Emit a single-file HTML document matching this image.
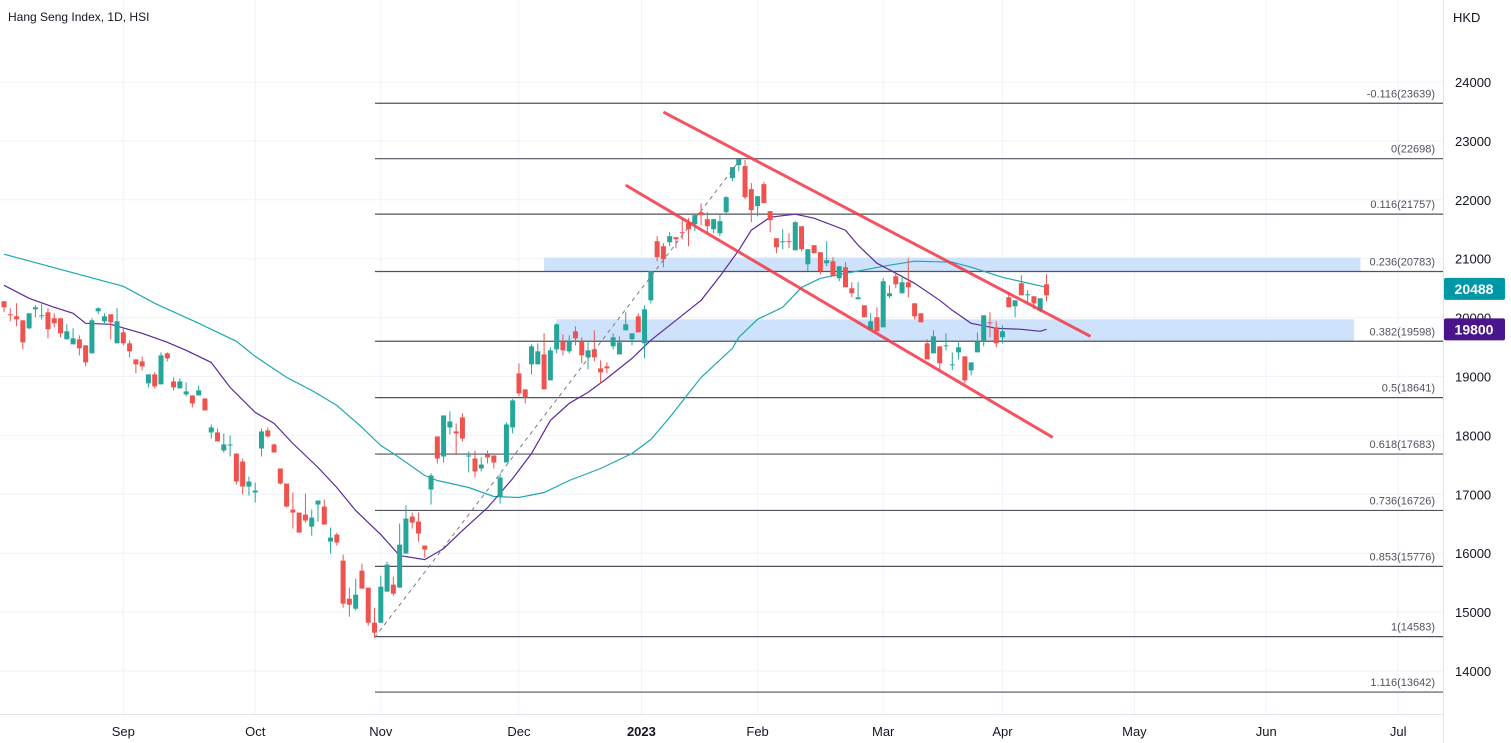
<!DOCTYPE html>
<html><head><meta charset="utf-8"><style>
body{margin:0;background:#fff;font-family:"Liberation Sans",sans-serif;}
svg{display:block}
</style></head><body>
<svg id="chart" width="1511" height="743" xmlns="http://www.w3.org/2000/svg">
<rect width="1511" height="743" fill="#fff"/>
<g id="grid"></g>
<g id="zones"></g>
<g id="fib"></g>
<g id="mas"></g>
<g id="candles"></g>
<g id="draw"></g>
<g id="axes"></g>
<text x="8" y="21" font-size="12" fill="#131722">Hang Seng Index, 1D, HSI</text>
</svg>
<script>
const opens=[20277,20056,20022,19954,19818,20141,20022,20090,19988,19988,19631,19546,19631,19529,19393,20107,19937,20056,19563,19750,19563,19291,19257,18883,19036,18866,19393,18917,18798,18696,18679,18679,18628,18050,18050,17744,17829,17693,17557,17132,17030,17778,18084,17846,17438,17183,16741,16690,16656,16452,16826,16792,16197,16316,15874,15228,15058,15704,15415,14820,
14820,15347,15466,15415,15993,16622,16537,16129,17081,17982,17642,18135,18067,18305,17642,17608,17438,17676,17659,16962,17540,18135,19053,18781,19206,19206,19376,18934,19461,19597,19427,19767,19597,19325,19461,19138,19172,19512,19376,19784,19631,20022,19563,20294,21297,21212,21280,21365,21450,21603,21586,21790,21671,21501,21433,21790,
22368,22589,22572,22181,21892,22266,21807,21348,21280,21297,21144,21552,20906,21229,21110,20923,20957,20668,20855,20498,20311,20209,19801,20005,19835,20362,20702,20413,20600,20243,20073,19563,19393,19512,19512,19189,19410,19342,19104,19410,19597,19920,19835,19665,20345,20192,20583,20379,20362,20124,20566];
const highs=[20277,20158,20243,19954,20073,20209,20260,20158,20073,19988,19886,19818,19699,19529,19988,20175,20073,20056,20158,19835,19614,19291,19342,19036,19070,19410,19410,18985,18968,18900,18679,18849,18628,18186,18118,18033,17999,17693,17608,17302,17200,18118,18135,17863,17438,17183,17030,16690,17013,16741,16894,16911,16435,16350,15976,15415,15568,15823,15415,15075,
15619,15857,15602,16503,16809,16690,16690,16129,17353,17982,18339,18407,18203,18373,17727,17744,17625,17744,17659,17353,18220,18620,19223,18781,19546,19563,19733,19495,19903,19716,19699,19852,19665,19597,19784,19274,19240,19733,19682,20090,19733,20073,20209,20787,21382,21263,21450,21365,21671,21688,21739,21943,21790,21671,21739,22060,
22555,22700,22674,22283,22062,22300,21807,21348,21501,21433,21637,21552,21161,21229,21110,21297,21025,20872,20940,20600,20600,20209,20073,20175,20668,20549,20753,20719,21008,20243,20073,19631,19784,19512,19733,19410,19580,19342,19240,19750,20039,20090,19937,19869,20430,20294,20719,20464,20362,20328,20736];
const lows=[20090,19937,19852,19461,19801,20005,19971,19648,19835,19665,19631,19546,19359,19172,19393,20056,19886,19631,19563,19529,19325,19053,19104,18815,18798,18866,19257,18764,18798,18662,18475,18679,18424,17948,17897,17710,17642,17166,16996,16979,16860,17642,17965,17710,17166,16775,16418,16350,16520,16299,16537,16486,15993,16129,15075,14922,15024,15398,14769,14565,
14820,15347,15279,15415,15993,16418,16197,15925,16826,17523,17540,18016,17693,17897,17370,17285,17387,17523,17438,16843,17540,18033,18662,18543,19036,19206,18781,18934,19393,19359,19393,19529,19223,19121,19257,18883,19053,19461,19376,19784,19529,19750,19308,20243,20957,20855,21212,21178,21331,21212,21467,21569,21450,21433,21382,21770,
22317,22487,22011,21620,21722,21943,21450,21093,21161,21178,21144,21127,20787,21093,20736,20872,20702,20617,20515,20345,20311,20005,19801,19767,19835,20328,20498,20413,20345,19971,19920,19291,19393,19104,19444,19104,19291,18883,19019,19410,19512,19665,19495,19563,20175,20005,20379,20243,20141,20090,20277];
const closes=[20175,20039,19971,19580,20073,20175,20039,19801,19903,19733,19767,19648,19478,19240,19954,20158,20022,19920,19937,19563,19427,19206,19172,19036,18832,19359,19308,18815,18917,18747,18543,18764,18424,18135,17897,17846,17846,17217,17132,17217,17064,18067,17982,17710,17183,16792,16690,16350,16554,16605,16894,16486,16265,16180,15143,15126,15296,15398,14820,14650,
15432,15806,15313,16146,16588,16520,16333,16061,17319,17608,18339,18237,18033,17948,17659,17387,17506,17625,17540,17285,18186,18594,18713,18645,19512,19427,18781,19444,19886,19444,19597,19648,19359,19444,19325,19070,19138,19665,19580,19886,19733,19750,20141,20787,21025,20991,21382,21331,21433,21501,21739,21739,21552,21671,21637,22045,
22555,22691,22045,21824,22062,21943,21654,21195,21297,21280,21620,21161,21161,21093,20787,20974,20702,20872,20515,20413,20345,20005,19937,19767,20617,20413,20566,20600,20515,20022,19920,19291,19682,19223,19529,19206,19495,18934,19240,19597,20039,19903,19563,19767,20175,20294,20379,20396,20243,20328,20379];
const maLongIdx=[0,19,24,31,37,40,45,49,53,57,60,62,67,69,74,78,82,86,90,95,100,103,106,109,111,116,117,120,124,127,130,135,141,145,151,154,159,166];
const maLongVal=[21076,20532,20243,19903,19597,19342,18985,18764,18509,18135,17829,17693,17319,17234,17115,16962,16945,17030,17234,17438,17693,17931,18305,18713,18985,19478,19665,19971,20175,20515,20668,20770,20889,20957,20940,20855,20685,20515];
const maShortIdx=[0,4,8,11,13,17,22,26,29,33,36,40,43,46,50,53,56,60,63,67,70,73,77,81,84,87,90,93,96,100,103,107,111,114,117,119,122,126,129,134,136,139,142,145,149,151,154,158,162,165,166];
const maShortVal=[20549,20328,20175,20073,19903,19886,19733,19580,19444,19240,18815,18390,18203,17863,17455,17115,16724,16316,15959,15891,16078,16384,16775,17268,17693,18254,18543,18730,18968,19308,19614,19954,20294,20702,21144,21484,21705,21756,21688,21484,21229,20923,20753,20583,20294,20124,19903,19818,19801,19767,19801];
const fibRatios=["-0.116","0","0.116","0.236","0.382","0.5","0.618","0.736","0.853","1","1.116"];
const fibValues=[23639,22698,21757,20783,19598,18641,17683,16726,15776,14583,13642];
const priceTicks=[24000,23000,22000,21000,20000,19000,18000,17000,16000,15000,14000];
const monthLabels=["Sep","Oct","Nov","Dec","2023","Feb","Mar","Apr","May","Jun","Jul"];
const monthIdx=[19,40,60,82,101.5,120,140,159,180,201,222];
const channelUpper=[[105,23490],[173,19682]];
const channelLower=[[99,22249],[167,17965]];
const fibAnchor=[[59,14565],[117.3,22691]];
const zoneUpper=[[86,20783],[216,21020]];
const zoneLower=[[88,19598],[215,19970]];
const lastPrice=20488, maPrice=19800;

const NS="http://www.w3.org/2000/svg";
const X=i=>4+i*6.28;
const Y=v=>82+(24000-v)*0.0589;
function mk(parent,tag,attrs){const e=document.createElementNS(NS,tag);for(const k in attrs)e.setAttribute(k,attrs[k]);document.getElementById(parent).appendChild(e);return e;}

// grid
priceTicks.forEach(v=>{const l=mk('grid','line',{x1:0,x2:1443,y1:Y(v),y2:Y(v),stroke:'#f0f3fa','stroke-width':1});

});
monthIdx.forEach(i=>{const l=mk('grid','line',{x1:X(i),x2:X(i),y1:0,y2:714,stroke:'#f0f3fa','stroke-width':1});

});

// zones
[zoneUpper,zoneLower].forEach((z,k)=>{const r=mk('zones','rect',{x:X(z[0][0]),y:Y(z[1][1]),width:X(z[1][0])-X(z[0][0]),height:Y(z[0][1])-Y(z[1][1]),fill:'#cfe2fb'});

});

// fib
fibValues.forEach((v,k)=>{const l=mk('fib','line',{x1:375,x2:1443,y1:Y(v),y2:Y(v),stroke:'#50535e','stroke-width':1.2});


const t=mk('fib','text',{x:1435,y:Y(v)-6,'font-size':11,fill:'#50535e','text-anchor':'end'});t.textContent=fibRatios[k]+'('+v+')';

});

// MAs
function path(idx,val){return idx.map((i,k)=>(k?'L':'M')+X(i).toFixed(1)+' '+Y(val[k]).toFixed(1)).join(' ');}
const p1=mk('mas','path',{d:path(maLongIdx,maLongVal),stroke:'#1fa8b0',fill:'none','stroke-width':1.2});


const p2=mk('mas','path',{d:path(maShortIdx,maShortVal),stroke:'#5b2a9b',fill:'none','stroke-width':1.2});



// candles
opens.forEach((o,i)=>{const c=closes[i],up=c>=o,col=up?'#26a69a':'#ef5350',x=X(i);
const w=mk('candles','line',{x1:x,x2:x,y1:Y(highs[i]),y2:Y(lows[i]),stroke:col,'stroke-width':1});


const top=Y(Math.max(o,c)),h=Math.max(1,Y(Math.min(o,c))-top);
const b=mk('candles','rect',{x:x-2.5,y:top,width:5,height:h,fill:col});

});

// drawings
const d=mk('draw','line',{x1:X(fibAnchor[0][0]),y1:Y(fibAnchor[0][1]),x2:X(fibAnchor[1][0]),y2:Y(fibAnchor[1][1]),stroke:'#787b86','stroke-width':1,'stroke-dasharray':'4 4'});


[channelUpper,channelLower].forEach((c,k)=>{const l=mk('draw','line',{x1:X(c[0][0]),y1:Y(c[0][1]),x2:X(c[1][0]),y2:Y(c[1][1]),stroke:'#f23645','stroke-width':3,'stroke-opacity':0.85});

});

// axes
const ax=mk('axes','line',{x1:1443.5,x2:1443.5,y1:0,y2:743,stroke:'#e0e3eb'});


const bx=mk('axes','line',{x1:0,x2:1443,y1:714.5,y2:714.5,stroke:'#e0e3eb'});


const cur=mk('axes','text',{x:1453,y:22,'font-size':13,fill:'#131722'});cur.textContent='HKD';


priceTicks.forEach(v=>{const t=mk('axes','text',{x:1455,y:Y(v)+5,'font-size':13,fill:'#131722'});t.textContent=v;

});
monthLabels.forEach((m,k)=>{const t=mk('axes','text',{x:X(monthIdx[k]),y:736,'font-size':13,fill:'#131722','text-anchor':'middle','font-weight':m==='2023'?'bold':'normal'});t.textContent=m;

});
[[lastPrice,'#0097a7','last-price-tag'],[maPrice,'#4a148c','ma-price-tag']].forEach(([v,c,n])=>{
const r=mk('axes','rect',{x:1444,y:Y(v)-11,width:61,height:22,fill:c,rx:2});


const t=mk('axes','text',{x:1474,y:Y(v)+5,'font-size':14,fill:'#fff','text-anchor':'middle','font-weight':'bold'});t.textContent=v;

});
</script>
</body></html>
